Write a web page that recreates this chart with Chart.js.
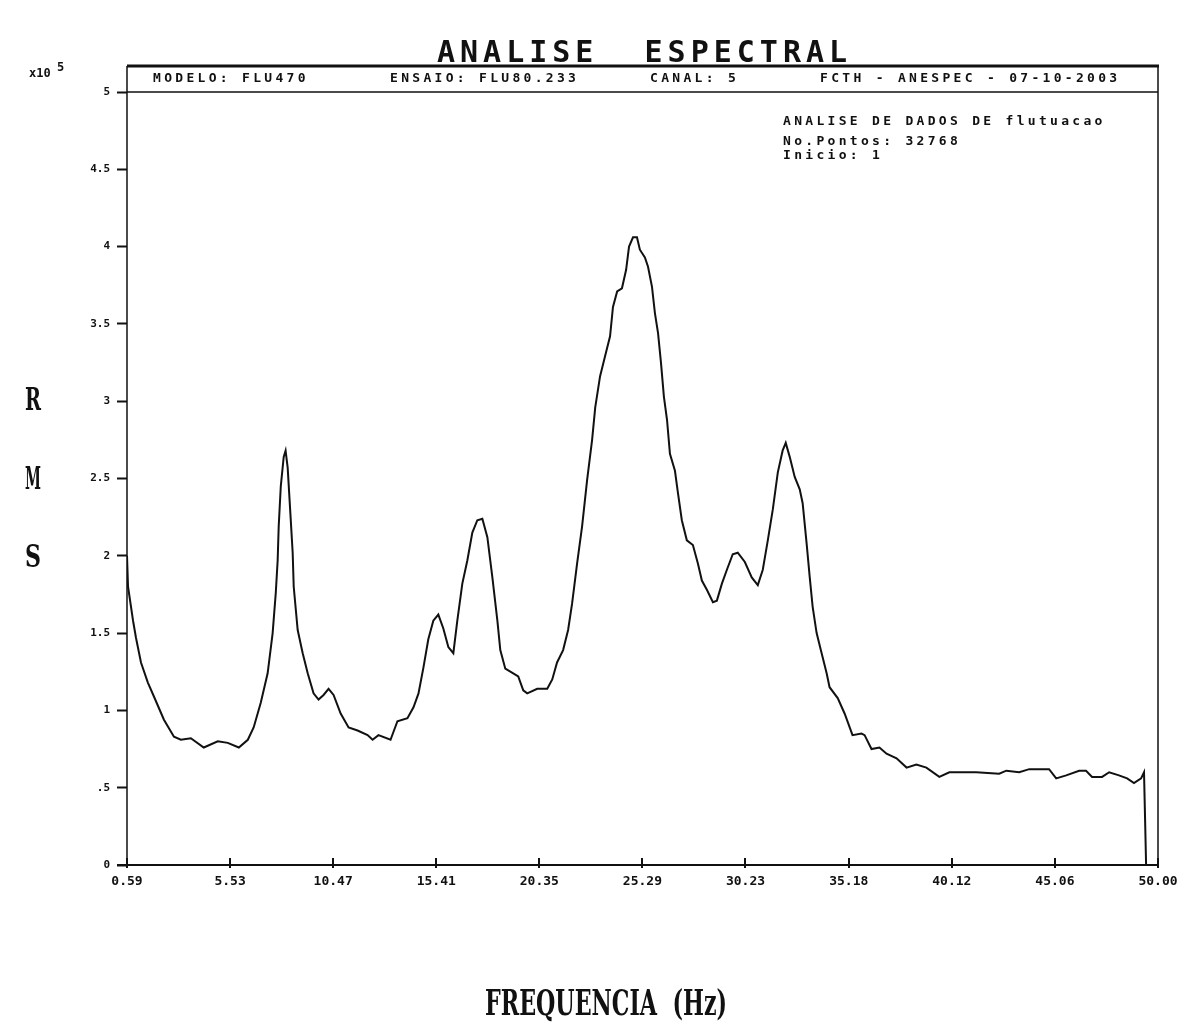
<!DOCTYPE html>
<html>
<head>
<meta charset="utf-8">
<title>Analise Espectral</title>
<script src="https://cdn.jsdelivr.net/npm/chart.js@4.4.1/dist/chart.umd.min.js"></script>
<style>
  html, body { margin: 0; padding: 0; background: #fff; }
  #wrap { width: 1183px; height: 1025px; }
</style>
</head>
<body>
<div id="wrap"><canvas id="specChart" width="1183" height="1025"></canvas></div>
<script>
// spectrum: frequency (Hz) and RMS amplitude (x10^5)
const freqHz = [
  0.59, 0.64, 0.88, 1.02, 1.26, 1.59, 1.88, 2.36, 2.84, 3.17,
  3.65, 4.27, 4.94, 5.42, 5.95, 6.38, 6.66, 7.00, 7.33, 7.57,
  7.72, 7.81, 7.86, 7.96, 8.10, 8.19, 8.29, 8.43, 8.53, 8.58,
  8.77, 9.01, 9.25, 9.53, 9.77, 10.01, 10.25, 10.49, 10.83, 11.21,
  11.64, 12.12, 12.36, 12.64, 13.22, 13.55, 14.03, 14.32, 14.56, 14.80,
  15.03, 15.27, 15.51, 15.75, 15.99, 16.23, 16.42, 16.66, 16.90, 17.14,
  17.38, 17.62, 17.86, 18.10, 18.34, 18.48, 18.72, 19.10, 19.34, 19.58,
  19.77, 20.25, 20.73, 20.97, 21.20, 21.49, 21.73, 21.92, 22.16, 22.40,
  22.64, 22.88, 23.03, 23.26, 23.50, 23.74, 23.88, 24.08, 24.31, 24.51,
  24.65, 24.84, 25.03, 25.17, 25.41, 25.56, 25.75, 25.89, 26.04, 26.18,
  26.32, 26.47, 26.61, 26.85, 26.99, 27.18, 27.42, 27.71, 27.95, 28.14,
  28.38, 28.67, 28.86, 29.10, 29.34, 29.62, 29.86, 30.20, 30.53, 30.82,
  31.06, 31.30, 31.54, 31.78, 32.01, 32.16, 32.35, 32.59, 32.83, 32.97,
  33.16, 33.31, 33.45, 33.64, 33.88, 34.12, 34.26, 34.65, 34.98, 35.36,
  35.79, 35.94, 36.27, 36.65, 36.99, 37.47, 37.95, 38.42, 38.90, 39.52,
  40.00, 41.29, 42.39, 42.73, 43.35, 43.83, 44.78, 45.12, 45.60, 46.22,
  46.55, 46.84, 47.32, 47.66, 48.13, 48.52, 48.85, 49.19, 49.33, 49.38,
  49.43
];
const rmsValues = [
  2.00, 1.80, 1.58, 1.47, 1.31, 1.18, 1.09, 0.94, 0.83, 0.81,
  0.82, 0.76, 0.80, 0.79, 0.76, 0.81, 0.89, 1.05, 1.24, 1.50,
  1.76, 1.97, 2.19, 2.45, 2.64, 2.68, 2.57, 2.25, 2.02, 1.80,
  1.52, 1.37, 1.24, 1.11, 1.07, 1.10, 1.14, 1.10, 0.98, 0.89,
  0.87, 0.84, 0.81, 0.84, 0.81, 0.93, 0.95, 1.02, 1.11, 1.28,
  1.46, 1.58, 1.62, 1.53, 1.41, 1.37, 1.58, 1.82, 1.97, 2.15,
  2.23, 2.24, 2.12, 1.86, 1.58, 1.39, 1.27, 1.24, 1.22, 1.13,
  1.11, 1.14, 1.14, 1.20, 1.31, 1.39, 1.52, 1.69, 1.95, 2.19,
  2.49, 2.75, 2.96, 3.16, 3.29, 3.42, 3.61, 3.71, 3.73, 3.85,
  4.00, 4.06, 4.06, 3.98, 3.93, 3.87, 3.74, 3.57, 3.44, 3.25,
  3.03, 2.88, 2.66, 2.55, 2.41, 2.23, 2.10, 2.07, 1.95, 1.84,
  1.78, 1.70, 1.71, 1.82, 1.91, 2.01, 2.02, 1.96, 1.86, 1.81,
  1.91, 2.10, 2.30, 2.54, 2.68, 2.73, 2.64, 2.51, 2.43, 2.34,
  2.08, 1.86, 1.67, 1.50, 1.37, 1.24, 1.15, 1.08, 0.98, 0.84,
  0.85, 0.84, 0.75, 0.76, 0.72, 0.69, 0.63, 0.65, 0.63, 0.57,
  0.60, 0.60, 0.59, 0.61, 0.60, 0.62, 0.62, 0.56, 0.58, 0.61,
  0.61, 0.57, 0.57, 0.60, 0.58, 0.56, 0.53, 0.56, 0.60, 0.30,
  0.00
];

const xTickValues = [0.59, 5.53, 10.47, 15.41, 20.35, 25.29, 30.23, 35.18, 40.12, 45.06, 50.00];
const yTickLabels = ['0', '.5', '1', '1.5', '2', '2.5', '3', '3.5', '4', '4.5', '5'];

const chartTitle = 'ANALISE  ESPECTRAL';
const headerFields = ['MODELO: FLU470', 'ENSAIO: FLU80.233', 'CANAL: 5', 'FCTH - ANESPEC - 07-10-2003'];
const infoLines = ['ANALISE DE DADOS DE flutuacao', 'No.Pontos: 32768', 'Inicio: 1'];
const yTitleLetters = ['R', 'M', 'S'];
const xTitle = 'FREQUENCIA  (Hz)';
const exponentBase = 'x10';
const exponentPower = '5';

const MONO = '"DejaVu Sans Mono", "Liberation Mono", monospace';
const SERIF = '"DejaVu Serif", "Liberation Serif", serif';
const INK = '#111';

// squeeze/stretch a string horizontally so it spans the given width
function drawFitted(ctx, text, x, y, width, font) {
  ctx.save();
  ctx.font = font;
  ctx.textAlign = 'left';
  ctx.textBaseline = 'alphabetic';
  const w = ctx.measureText(text).width;
  ctx.translate(x, y);
  ctx.scale(width / w, 1);
  ctx.fillText(text, 0, 0);
  ctx.restore();
}

function drawSpaced(ctx, text, x, y, font, spacing) {
  ctx.save();
  ctx.font = font;
  ctx.letterSpacing = spacing + 'px';
  ctx.textAlign = 'left';
  ctx.textBaseline = 'middle';
  ctx.fillText(text, x, y);
  ctx.restore();
}

const framePlugin = {
  id: 'frame',
  afterDraw(chart) {
    const ctx = chart.ctx;
    const area = chart.chartArea;
    const xs = chart.scales.x;
    const ys = chart.scales.y;
    const boxTop = 66;

    ctx.save();
    ctx.strokeStyle = INK;
    ctx.fillStyle = INK;

    // header box and plot frame
    ctx.lineWidth = 3;
    ctx.beginPath();
    ctx.moveTo(area.left, boxTop);
    ctx.lineTo(area.right + 1, boxTop);
    ctx.stroke();

    ctx.lineWidth = 1.5;
    ctx.beginPath();
    ctx.moveTo(area.left, boxTop);
    ctx.lineTo(area.left, area.bottom);
    ctx.moveTo(area.right, boxTop);
    ctx.lineTo(area.right, area.bottom);
    ctx.moveTo(area.left, ys.getPixelForValue(5));
    ctx.lineTo(area.right, ys.getPixelForValue(5));
    ctx.stroke();

    ctx.lineWidth = 2;
    ctx.beginPath();
    ctx.moveTo(area.left - 10, area.bottom);
    ctx.lineTo(area.right, area.bottom);
    ctx.stroke();

    // x ticks sit mostly inside the plot
    ctx.lineWidth = 2;
    ctx.beginPath();
    xTickValues.forEach(v => {
      const px = Math.round(xs.getPixelForValue(v));
      ctx.moveTo(px, area.bottom - 7);
      ctx.lineTo(px, area.bottom + 3);
    });
    ctx.stroke();

    // title
    ctx.save();
    ctx.font = 'bold 30px ' + MONO;
    ctx.letterSpacing = '5px';
    ctx.textBaseline = 'alphabetic';
    ctx.fillText(chartTitle, 437, 62);
    ctx.restore();

    // header fields
    const headerX = [153, 390, 650, 820];
    headerFields.forEach((t, i) => drawSpaced(ctx, t, headerX[i], 79, 'bold 13px ' + MONO, 3.3));

    // info block
    const infoY = [122, 142, 156];
    infoLines.forEach((t, i) => drawSpaced(ctx, t, 783, infoY[i], 'bold 13px ' + MONO, 3.3));

    // exponent
    drawSpaced(ctx, exponentBase, 29, 74, 'bold 12px ' + MONO, 0);
    drawSpaced(ctx, exponentPower, 57, 68, 'bold 12px ' + MONO, 0);

    // y title, stacked letters
    const letterY = [410, 489, 567];
    yTitleLetters.forEach((t, i) => drawFitted(ctx, t, 25, letterY[i], 16, 'bold 31px ' + SERIF));

    // x title
    drawFitted(ctx, xTitle, 485, 1015, 242, 'bold 35px ' + SERIF);

    ctx.restore();
  }
};

const points = freqHz.map((f, i) => ({ x: f, y: rmsValues[i] }));

new Chart(document.getElementById('specChart'), {
  type: 'line',
  data: {
    datasets: [{
      label: 'RMS',
      data: points,
      borderColor: INK,
      borderWidth: 2,
      pointRadius: 0,
      tension: 0,
      fill: false
    }]
  },
  options: {
    responsive: false,
    animation: false,
    layout: { padding: { top: 92, right: 25, left: 0, bottom: 0 } },
    plugins: {
      legend: { display: false },
      tooltip: { enabled: false }
    },
    scales: {
      x: {
        type: 'linear',
        min: 0.59,
        max: 50,
        afterBuildTicks: axis => { axis.ticks = xTickValues.map(v => ({ value: v })); },
        afterFit: axis => {
          axis.height = 160;
          // keep the edge labels from pulling the plot inwards
          axis.paddingLeft = 0;
          axis.paddingRight = 0;
        },
        grid: { display: true, drawOnChartArea: false, drawTicks: false },
        border: { display: false },
        ticks: {
          autoSkip: false,
          maxRotation: 0,
          padding: 9,
          color: INK,
          font: { family: MONO, size: 13, weight: 'bold' },
          callback: v => Number(v).toFixed(2)
        }
      },
      y: {
        min: 0,
        max: 5,
        afterFit: axis => { axis.width = 127; },
        grid: { display: true, drawOnChartArea: false, drawTicks: true, tickLength: 10, tickWidth: 2, tickColor: INK },
        border: { display: false },
        ticks: {
          stepSize: 0.5,
          padding: 7,
          color: INK,
          font: { family: MONO, size: 11, weight: 'bold' },
          callback: (v, i) => yTickLabels[i]
        }
      }
    }
  },
  plugins: [framePlugin]
});
</script>
</body>
</html>
